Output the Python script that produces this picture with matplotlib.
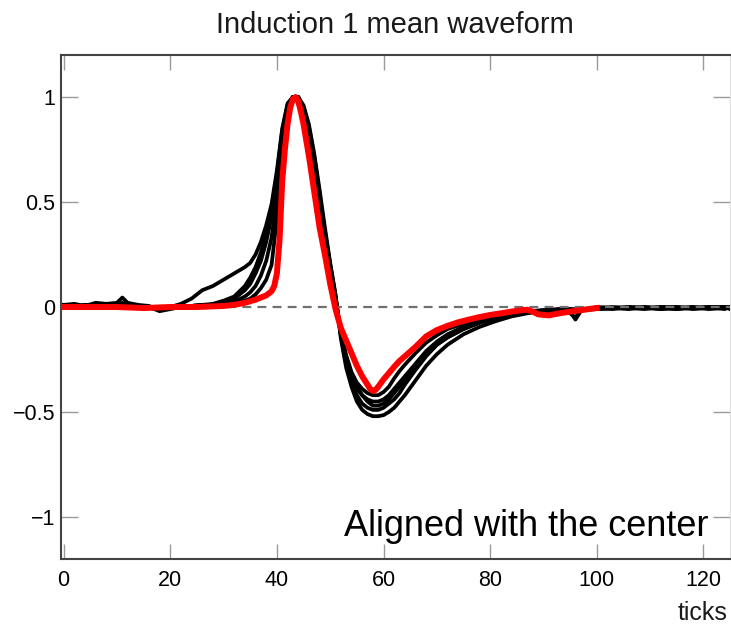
import matplotlib
matplotlib.use("Agg")
import matplotlib.pyplot as plt

plt.rcParams['font.family'] = ['Liberation Sans', 'DejaVu Sans']

# x samples (ticks) shared by the black waveforms
x_black = [0, 2, 4, 6, 8, 10,
           11, 12, 14, 16, 18, 20,
           22, 24, 26, 28, 30,
           32, 34, 35, 36, 37, 38,
           39, 40, 41, 42, 43, 44,
           45, 46, 47, 48, 49, 50,
           51, 52, 53, 54, 55, 56,
           57, 58, 59, 60, 61, 62,
           63, 64, 66, 68, 70, 72,
           75, 78, 81, 84, 87, 90,
           93, 95, 96, 97, 100, 103,
           106, 109, 112, 115, 118, 121,
           124, 125]

black_1 = [0.01, 0.015, 0.005, 0.02, 0.015, 0.02,
           0.045, 0.02, 0.01, 0.005, -0.015, 0.0,
           0.015, 0.04, 0.08, 0.10, 0.13,
           0.16, 0.19, 0.21, 0.25, 0.31, 0.39,
           0.49, 0.65, 0.85, 0.97, 1.0, 1.0,
           0.95, 0.85, 0.71, 0.53, 0.36, 0.20,
           0.05, -0.12, -0.24, -0.32, -0.38, -0.42,
           -0.45, -0.47, -0.47, -0.46, -0.44, -0.41,
           -0.38, -0.35, -0.29, -0.23, -0.18, -0.145,
           -0.105, -0.075, -0.05, -0.035, -0.025, -0.02,
           -0.015, -0.03, -0.05, -0.015, -0.01, -0.005,
           -0.01, 0.0, -0.01, -0.005, 0.0, -0.01,
           -0.005, 0.0]

black_2 = [0.0, 0.01, 0.0, 0.005, 0.01, 0.005,
           0.02, 0.01, 0.0, 0.0, -0.02, -0.01,
           0.0, 0.005, 0.01, 0.01, 0.01,
           0.015, 0.03, 0.04, 0.06, 0.09, 0.13,
           0.20, 0.42, 0.76, 0.94, 1.0, 0.99,
           0.93, 0.83, 0.69, 0.51, 0.34, 0.18,
           0.03, -0.12, -0.23, -0.31, -0.36, -0.39,
           -0.41, -0.42, -0.42, -0.405, -0.38, -0.34,
           -0.305, -0.275, -0.22, -0.17, -0.135, -0.105,
           -0.08, -0.06, -0.045, -0.03, -0.02, -0.015,
           -0.01, -0.02, -0.06, -0.02, 0.0, -0.005,
           0.0, -0.005, 0.0, -0.01, -0.005, 0.0,
           0.0, -0.005]

black_3 = [0.005, 0.0, 0.01, 0.0, 0.005, 0.01,
           0.015, 0.005, 0.0, -0.005, -0.01, 0.0,
           0.005, 0.005, 0.01, 0.01, 0.02,
           0.04, 0.08, 0.11, 0.16, 0.22, 0.31,
           0.43, 0.60, 0.82, 0.96, 1.0, 1.0,
           0.94, 0.84, 0.70, 0.52, 0.35, 0.19,
           0.04, -0.13, -0.25, -0.33, -0.39, -0.42,
           -0.44, -0.45, -0.45, -0.44, -0.42, -0.39,
           -0.36, -0.33, -0.27, -0.21, -0.165, -0.13,
           -0.095, -0.07, -0.05, -0.035, -0.025, -0.015,
           -0.015, -0.01, -0.01, -0.015, -0.005, 0.0,
           -0.005, -0.01, 0.0, 0.0, -0.01, -0.005,
           0.0, 0.0]

black_4 = [0.0, 0.005, 0.005, 0.01, 0.0, 0.005,
           0.01, 0.0, 0.005, 0.0, -0.005, 0.0,
           0.0, 0.005, 0.01, 0.015, 0.03,
           0.05, 0.10, 0.14, 0.19, 0.26, 0.35,
           0.46, 0.63, 0.84, 0.96, 1.0, 1.0,
           0.95, 0.86, 0.72, 0.54, 0.36, 0.20,
           0.05, -0.14, -0.27, -0.36, -0.42, -0.46,
           -0.48, -0.49, -0.49, -0.48, -0.46, -0.44,
           -0.41, -0.37, -0.30, -0.235, -0.18, -0.145,
           -0.105, -0.075, -0.055, -0.04, -0.025, -0.02,
           -0.01, -0.015, -0.02, -0.01, -0.005, -0.01,
           0.0, -0.005, -0.01, 0.0, -0.005, 0.0,
           -0.01, 0.0]

black_5 = [0.01, 0.0, 0.01, 0.005, 0.005, 0.0,
           0.005, 0.005, 0.0, 0.0, -0.01, -0.005,
           0.0, 0.0, 0.005, 0.01, 0.015,
           0.025, 0.05, 0.07, 0.10, 0.15, 0.22,
           0.33, 0.52, 0.79, 0.95, 1.0, 1.0,
           0.96, 0.87, 0.73, 0.56, 0.38, 0.21,
           0.06, -0.15, -0.29, -0.38, -0.45, -0.49,
           -0.51, -0.52, -0.52, -0.515, -0.50, -0.48,
           -0.45, -0.42, -0.35, -0.28, -0.225, -0.18,
           -0.13, -0.095, -0.068, -0.045, -0.03, -0.02,
           -0.015, -0.01, -0.015, -0.01, -0.01, -0.005,
           -0.005, 0.0, -0.005, -0.01, 0.0, -0.005,
           0.0, -0.01]

# red reference waveform
x_red = [0, 5, 10, 15, 20, 25, 30, 32, 34, 36, 37, 38, 39, 39.5,
         40, 40.5, 41, 41.5, 42, 42.5, 43, 43.5, 44, 44.5, 45, 46,
         47, 48, 49, 50, 51, 52, 53, 54, 55, 56, 57, 57.5, 58, 58.5,
         59, 60, 61, 62, 63, 64, 66, 68, 70, 72, 74, 76, 78, 80, 82,
         84, 86, 87, 88, 89, 91, 93, 95, 97, 100]
y_red = [0.0, 0.0, 0.0, -0.005, 0.0, 0.0, 0.005, 0.01, 0.02, 0.035, 0.045, 0.055, 0.075, 0.10,
         0.16, 0.32, 0.60, 0.75, 0.87, 0.95, 0.99, 1.0, 0.98, 0.93, 0.87, 0.72,
         0.55, 0.38, 0.25, 0.11, -0.01, -0.10, -0.16, -0.22, -0.28, -0.33, -0.37, -0.39, -0.40, -0.395,
         -0.38, -0.345, -0.315, -0.285, -0.257, -0.235, -0.19, -0.14, -0.11, -0.09, -0.073, -0.06, -0.048, -0.038, -0.03,
         -0.022, -0.015, -0.013, -0.022, -0.035, -0.04, -0.03, -0.022, -0.015, -0.005]

black_curves = [black_1, black_2, black_3, black_4, black_5]

fig = plt.figure(figsize=(7.31, 6.26), dpi=100)
ax = fig.add_axes([61 / 731, (626 - 559) / 626, 669 / 731, 504 / 626])

for yb in black_curves:
    ax.plot(x_black, yb, color='black', lw=2.7, zorder=2)

ax.axhline(0, color='#707070', lw=1.6, ls=(0, (4, 2.8)), zorder=3)
ax.plot(x_red, y_red, color='#ff0000', lw=4.3, zorder=4, solid_joinstyle='round')

ax.set_xlim(-0.5, 125)
ax.set_ylim(-1.2, 1.2)
ax.set_xticks([0, 20, 40, 60, 80, 100, 120])
ax.set_yticks([-1, -0.5, 0, 0.5, 1])
ax.set_yticklabels(['\u22121', '\u22120.5', '0', '0.5', '1'])

ax.tick_params(direction='in', top=True, right=True, labelsize=15.5,
               color='#9a9a9a', width=1.0)
ax.tick_params(axis='x', length=11, pad=8)
ax.tick_params(axis='y', length=12, pad=4)

for side in ['left', 'bottom', 'top']:
    ax.spines[side].set_color('#444444')
    ax.spines[side].set_linewidth(1.5)
ax.spines['right'].set_color('#dddddd')
ax.spines['right'].set_linewidth(0.8)

fig.text(395 / 731, 1 - 33 / 626, 'Induction 1 mean waveform', fontsize=21,
         ha='center', va='baseline', color='#1a1a1a')
fig.text(708 / 731, 1 - 536 / 626, 'Aligned with the center', fontsize=26,
         ha='right', va='baseline', color='black')
fig.text(728 / 731, 1 - 620 / 626, 'ticks', fontsize=18,
         ha='right', va='baseline', color='#1a1a1a')

fig.savefig('out.png', dpi=100)
